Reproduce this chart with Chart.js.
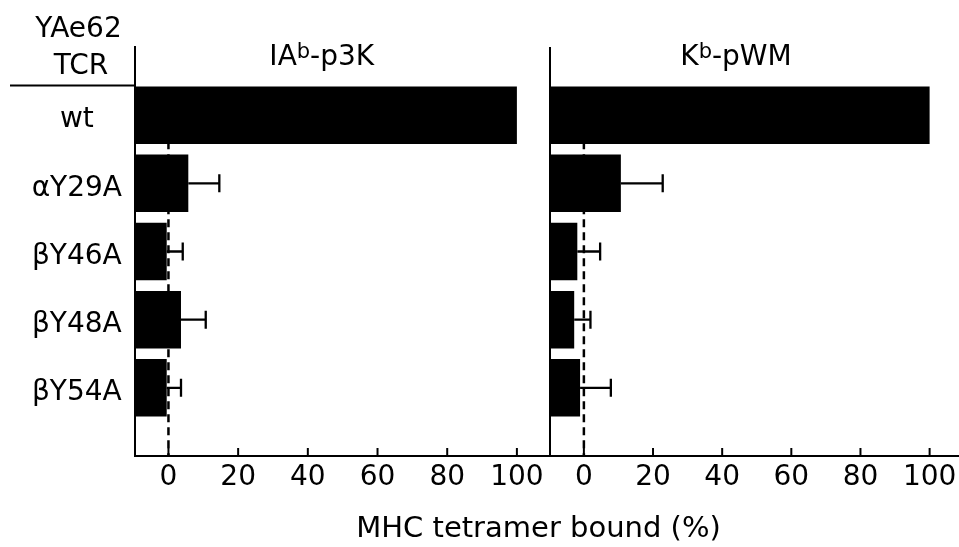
<!DOCTYPE html>
<html><head><meta charset="utf-8">
<script src="https://cdn.jsdelivr.net/npm/chart.js@4/dist/chart.umd.min.js"></script>
<style>html,body{margin:0;padding:0;background:#fff;} canvas{display:block;}</style>
</head><body>
<canvas id="c" width="959" height="547"></canvas>
<script>
// ---- data ----
const categories = ['wt', 'αY29A', 'βY46A', 'βY48A', 'βY54A'];
const p3kValues  = [100, 5.7, -0.5, 3.6, -0.5];
const p3kErrors  = [0, 8.9, 4.6, 7.1, 4.1];
const pwmValues  = [100, 10.7, -1.9, -2.8, -1.1];
const pwmErrors  = [0, 12.1, 6.6, 4.7, 8.9];
const tickValues = [0, 20, 40, 60, 80, 100];
const rowHeader  = ['YAe62', 'TCR'];
const panelTitles = [['IA', 'b', '-p3K'], ['K', 'b', '-pWM']];
const xAxisTitle = 'MHC tetramer bound (%)';

// ---- rendering ----
const FONT = 'DejaVu Sans';
const LEFT_MIN = -9.6, LEFT_MAX = 109.5, RIGHT_MIN = -9.8, RIGHT_MAX = 108.5;
const pad = a => [null, ...a, null];
const labels = ['', ...categories, ''];
const errs = [p3kErrors, pwmErrors];
const vals = [p3kValues, pwmValues];

function fixedTicks(scale) { scale.ticks = tickValues.map(v => ({ value: v })); }
function fitX(s) { s.height = 91; s.paddingLeft = 0; s.paddingRight = 0; }

const decor = {
  id: 'decor',
  beforeDatasetsDraw(chart) {
    const ctx = chart.ctx, ys = chart.scales.y, area = chart.chartArea;
    ctx.save();
    ctx.strokeStyle = '#000'; ctx.lineWidth = 2.5; ctx.setLineDash([8, 5]);
    ['x', 'x2'].forEach(id => {
      const px = chart.scales[id].getPixelForValue(0);
      ctx.beginPath(); ctx.moveTo(px, ys.getPixelForValue(1)); ctx.lineTo(px, area.bottom); ctx.stroke();
    });
    ctx.restore();
  },
  afterDatasetsDraw(chart) {
    const ctx = chart.ctx, ys = chart.scales.y, area = chart.chartArea;
    ctx.save();
    ctx.strokeStyle = '#000';
    ctx.lineWidth = 2.3;
    ['x', 'x2'].forEach((id, d) => {
      const s = chart.scales[id];
      vals[d].forEach((v, j) => {
        const e = errs[d][j];
        if (!e) return;
        const y = ys.getPixelForValue(j + 1);
        const x0 = s.getPixelForValue(v), x1 = s.getPixelForValue(v + e);
        ctx.beginPath(); ctx.moveTo(x0, y); ctx.lineTo(x1, y);
        ctx.moveTo(x1, y - 9); ctx.lineTo(x1, y + 9); ctx.stroke();
      });
    });
    ctx.lineWidth = 2;
    const xr = chart.scales.x2.left;
    ctx.beginPath(); ctx.moveTo(xr, area.top); ctx.lineTo(xr, area.bottom); ctx.stroke();
    ['x', 'x2'].forEach(id => {
      const s = chart.scales[id];
      tickValues.forEach(v => {
        const px = s.getPixelForValue(v);
        ctx.beginPath(); ctx.moveTo(px, area.bottom); ctx.lineTo(px, area.bottom - 8); ctx.stroke();
      });
    });
    ctx.restore();
  },
  afterDraw(chart) {
    const ctx = chart.ctx;
    ctx.save();
    ctx.fillStyle = '#000'; ctx.strokeStyle = '#000';
    ctx.textBaseline = 'alphabetic'; ctx.textAlign = 'center';
    ctx.font = '28px "' + FONT + '"';
    ctx.fillText(rowHeader[0], 78.5, 36.5);
    ctx.fillText(rowHeader[1], 81, 74);
    ctx.lineWidth = 2;
    ctx.beginPath(); ctx.moveTo(10, 85.5); ctx.lineTo(chart.chartArea.left, 85.5); ctx.stroke();
    ['x', 'x2'].forEach((id, d) => {
      const [a, sup, b] = panelTitles[d];
      const big = '28px "' + FONT + '"', small = '21px "' + FONT + '"';
      ctx.font = big; const wa = ctx.measureText(a).width, wb = ctx.measureText(b).width;
      ctx.font = small; const ws = ctx.measureText(sup).width;
      const cx = chart.scales[id].getPixelForValue(44);
      let x = cx - (wa + ws + wb) / 2;
      ctx.textAlign = 'left';
      ctx.font = big; ctx.fillText(a, x, 64.5); x += wa;
      ctx.font = small; ctx.fillText(sup, x, 58); x += ws;
      ctx.font = big; ctx.fillText(b, x, 64.5);
    });
    ctx.textAlign = 'center';
    ctx.font = '29px "' + FONT + '"';
    ctx.fillText(xAxisTitle, 538.5, 537);
    ctx.restore();
  }
};

Chart.defaults.font.family = FONT;
Chart.defaults.font.size = 28;
Chart.defaults.color = '#000';

new Chart(document.getElementById('c'), {
  type: 'bar',
  data: {
    labels: labels,
    datasets: [
      { data: pad(p3kValues), xAxisID: 'x', yAxisID: 'y', base: LEFT_MIN, backgroundColor: '#000', borderWidth: 0, grouped: false, barPercentage: 0.843, categoryPercentage: 1 },
      { data: pad(pwmValues), xAxisID: 'x2', yAxisID: 'y', base: RIGHT_MIN, backgroundColor: '#000', borderWidth: 0, grouped: false, barPercentage: 0.843, categoryPercentage: 1 }
    ]
  },
  options: {
    indexAxis: 'y',
    responsive: false,
    animation: false,
    devicePixelRatio: 1,
    layout: { padding: { top: 47, left: 0, right: 0, bottom: 0 } },
    plugins: { legend: { display: false }, tooltip: { enabled: false } },
    scales: {
      y: {
        type: 'category', position: 'left', offset: false,
        grid: { display: false, drawTicks: false },
        border: { display: true, color: '#000', width: 2 },
        ticks: { crossAlign: 'center', padding: 13, labelOffset: 5, autoSkip: false, font: { size: 28 } },
        afterFit(s) { s.width = 135; }
      },
      x: {
        type: 'linear', position: 'bottom', stack: 'panels', stackWeight: 415,
        min: LEFT_MIN, max: LEFT_MAX,
        grid: { display: false, drawTicks: false },
        border: { display: true, color: '#000', width: 2 },
        ticks: { padding: 5, font: { size: 28 }, maxRotation: 0, autoSkip: false },
        afterBuildTicks: fixedTicks,
        afterFit: fitX
      },
      x2: {
        type: 'linear', position: 'bottom', stack: 'panels', stackWeight: 409,
        min: RIGHT_MIN, max: RIGHT_MAX,
        grid: { display: false, drawTicks: false },
        border: { display: true, color: '#000', width: 2 },
        ticks: { padding: 5, font: { size: 28 }, maxRotation: 0, autoSkip: false },
        afterBuildTicks: fixedTicks,
        afterFit: fitX
      }
    }
  },
  plugins: [decor]
});
</script>
</body></html>
